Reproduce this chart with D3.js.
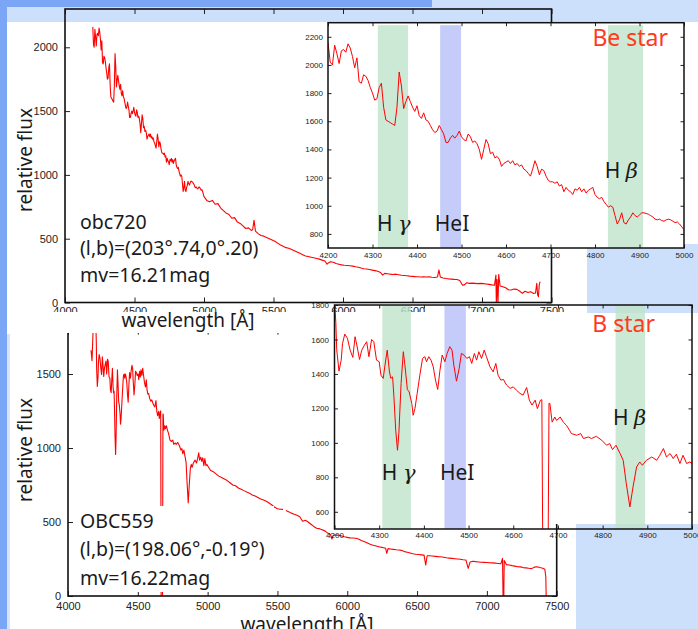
<!DOCTYPE html>
<html><head><meta charset="utf-8">
<script src="https://cdn.jsdelivr.net/npm/d3@7"></script>
<style>body{margin:0;background:#fff}svg{display:block}</style>
</head><body>
<script>
// ---------------- DATA ----------------
// Be star (obc720): blue part 4200-5000 Å (shared by main plot and inset)
const beBlue = [[4200,2160],[4205,2020],[4210,2000],[4215,2140],[4220,2080],[4225,2010],[4230,2100],[4235,2110],[4240,2090],[4245,2150],[4250,2120],[4255,2060],[4260,1980],[4265,2050],[4270,1880],[4275,1870],[4280,1930],[4285,1920],[4290,1890],[4295,1840],[4300,1800],[4305,1750],[4310,1760],[4315,1840],[4320,1870],[4325,1700],[4330,1610],[4335,1600],[4340,1590],[4345,1580],[4350,1570],[4355,1700],[4360,1950],[4365,1850],[4370,1690],[4375,1740],[4380,1780],[4385,1740],[4390,1700],[4395,1670],[4400,1710],[4405,1640],[4410,1620],[4415,1660],[4420,1610],[4425,1600],[4430,1570],[4435,1540],[4440,1520],[4445,1530],[4450,1570],[4455,1540],[4460,1510],[4465,1450],[4470,1450],[4475,1480],[4480,1500],[4485,1480],[4490,1500],[4495,1530],[4500,1490],[4505,1470],[4510,1460],[4515,1510],[4520,1490],[4525,1450],[4530,1460],[4535,1440],[4540,1400],[4545,1330],[4550,1400],[4555,1470],[4560,1440],[4565,1370],[4570,1380],[4575,1340],[4580,1350],[4585,1330],[4590,1280],[4595,1300],[4600,1310],[4605,1320],[4610,1300],[4615,1320],[4620,1290],[4625,1300],[4630,1280],[4635,1290],[4640,1260],[4645,1250],[4650,1230],[4655,1210],[4660,1260],[4665,1320],[4670,1280],[4675,1220],[4680,1260],[4685,1250],[4690,1210],[4695,1180],[4700,1170],[4705,1170],[4710,1160],[4715,1170],[4720,1140],[4725,1150],[4730,1100],[4735,1130],[4740,1110],[4745,1100],[4750,1080],[4755,1120],[4760,1110],[4765,1130],[4770,1100],[4775,1120],[4780,1090],[4785,1110],[4790,1120],[4795,1130],[4800,1080],[4805,1060],[4810,1050],[4815,1060],[4820,1030],[4825,1010],[4830,990],[4835,1000],[4840,990],[4845,930],[4850,870],[4855,900],[4860,950],[4865,880],[4870,870],[4875,900],[4880,920],[4885,950],[4890,930],[4895,920],[4900,935],[4905,950],[4910,950],[4915,945],[4920,940],[4925,930],[4930,920],[4935,905],[4940,900],[4945,905],[4950,895],[4955,890],[4960,900],[4965,905],[4970,900],[4975,890],[4980,880],[4985,885],[4990,870],[4995,850],[5000,830]];
// Be star red part 5000-7420 Å
const beRed = [[5020,800],[5040,790],[5060,800],[5080,770],[5100,775],[5120,740],[5140,720],[5160,700],[5180,690],[5200,660],[5220,665],[5240,630],[5260,620],[5280,600],[5300,580],[5320,585],[5340,565],[5350,570],[5360,645],[5370,560],[5390,540],[5410,525],[5430,520],[5450,510],[5470,500],[5490,490],[5510,480],[5530,465],[5550,450],[5570,440],[5590,430],[5610,425],[5630,415],[5650,405],[5670,395],[5690,385],[5710,375],[5730,365],[5750,360],[5770,355],[5790,350],[5810,345],[5830,340],[5850,332],[5870,325],[5885,300],[5895,310],[5910,320],[5930,315],[5950,305],[5970,300],[5990,295],[6010,292],[6030,290],[6050,288],[6070,285],[6090,280],[6110,276],[6130,270],[6150,265],[6170,262],[6190,258],[6210,254],[6230,250],[6250,245],[6270,235],[6285,215],[6300,228],[6320,225],[6340,222],[6360,220],[6380,222],[6400,218],[6420,214],[6440,212],[6460,210],[6480,207],[6500,205],[6520,203],[6540,202],[6560,200],[6580,202],[6600,200],[6620,202],[6640,198],[6660,196],[6680,200],[6690,255],[6700,200],[6720,192],[6740,188],[6760,185],[6780,183],[6800,181],[6820,180],[6840,172],[6860,135],[6875,140],[6890,155],[6910,150],[6930,152],[6950,150],[6970,148],[6990,150],[7010,148],[7030,145],[7050,142],[7070,138],[7090,136],[7100,215],[7103,-10],[7108,180],[7115,-10],[7120,220],[7130,130],[7150,124],[7170,115],[7190,100],[7210,98],[7230,105],[7250,103],[7270,90],[7290,72],[7310,88],[7330,78],[7350,85],[7370,70],[7385,75],[7394,150],[7400,60],[7406,46],[7412,140],[7418,163]];

// B star (OBC559): start of spectrum below 4200 Å
const bStart = [[4165,1660],[4172,1590],[4180,1800],[4188,1900],[4195,1850]];
// B star blue part 4200-5000 Å
const bBlue = [[4200,1820],[4203,1700],[4205,1540],[4210,1416],[4215,1480],[4218,1577],[4223,1631],[4229,1606],[4235,1538],[4241,1496],[4246,1616],[4250,1567],[4256,1484],[4261,1538],[4267,1567],[4272,1587],[4277,1500],[4283,1600],[4288,1587],[4294,1480],[4300,1471],[4304,1393],[4309,1374],[4313,1451],[4318,1538],[4323,1412],[4326,1374],[4330,1383],[4333,1267],[4337,1073],[4341,957],[4344,1054],[4349,1345],[4354,1529],[4358,1441],[4363,1310],[4367,1296],[4373,1228],[4376,1160],[4380,1199],[4385,1287],[4391,1393],[4397,1490],[4402,1500],[4406,1471],[4411,1500],[4416,1480],[4421,1441],[4426,1364],[4431,1310],[4436,1422],[4441,1509],[4447,1471],[4452,1519],[4458,1558],[4463,1538],[4467,1451],[4473,1358],[4479,1432],[4484,1519],[4490,1509],[4496,1490],[4502,1500],[4507,1461],[4513,1519],[4518,1480],[4523,1529],[4529,1490],[4535,1538],[4540,1500],[4548,1441],[4555,1412],[4561,1461],[4566,1393],[4572,1364],[4578,1368],[4585,1335],[4593,1316],[4600,1325],[4607,1306],[4615,1287],[4622,1277],[4630,1321],[4636,1248],[4642,1219],[4649,1248],[4654,1199],[4661,1248],[4664,1250],[4667,-50],[4677,-50],[4680,1230],[4682,1228],[4687,1120],[4693,1150],[4697,1130],[4705,1150],[4712,1120],[4719,1102],[4726,1073],[4730,1054],[4742,1044],[4751,1054],[4757,1025],[4768,1034],[4775,1025],[4786,1038],[4798,1015],[4809,986],[4816,996],[4822,961],[4830,986],[4839,938],[4846,899],[4853,763],[4861,628],[4868,744],[4876,860],[4883,889],[4889,870],[4898,899],[4910,918],[4921,899],[4928,928],[4936,967],[4943,918],[4951,938],[4958,909],[4965,934],[4973,880],[4980,928],[4988,880],[4995,889],[5000,880]];
// B star red part 5000-7425 Å (null = gap in the data)
const bRed = [[5020,850],[5040,840],[5060,825],[5080,810],[5100,800],[5120,790],[5140,780],[5160,765],[5180,750],[5200,745],[5220,730],[5240,722],[5260,712],[5280,703],[5300,695],[5320,683],[5340,675],[5360,665],[5380,655],[5400,648],[5420,640],[5440,628],[5460,615],[5480,600],[5500,590],[5520,586],[5540,585],[5545,null],[5560,578],[5580,570],[5600,560],[5620,552],[5640,545],[5660,535],[5680,505],[5700,512],[5720,500],[5740,485],[5760,470],[5780,458],[5800,455],[5820,448],[5840,440],[5860,425],[5880,415],[5890,385],[5900,410],[5920,412],[5940,410],[5960,405],[5980,400],[6000,396],[6020,393],[6040,392],[6060,390],[6080,385],[6100,375],[6120,368],[6140,360],[6160,352],[6180,345],[6200,340],[6220,335],[6240,330],[6260,326],[6275,322],[6283,288],[6292,320],[6310,318],[6330,315],[6350,312],[6370,311],[6390,308],[6410,300],[6430,295],[6450,290],[6470,285],[6490,282],[6510,280],[6530,278],[6550,276],[6562,209],[6572,272],[6590,272],[6610,270],[6630,268],[6650,266],[6670,265],[6690,262],[6710,258],[6730,256],[6750,254],[6770,252],[6790,250],[6810,248],[6830,245],[6850,243],[6866,187],[6880,230],[6900,235],[6920,232],[6940,230],[6960,228],[6980,227],[7000,226],[7020,225],[7040,224],[7060,222],[7080,220],[7100,218],[7112,254],[7116,-20],[7121,-20],[7124,240],[7140,212],[7160,209],[7180,205],[7200,202],[7220,198],[7240,197],[7260,192],[7280,190],[7300,187],[7320,185],[7340,195],[7360,198],[7380,192],[7400,187],[7415,180],[7422,130],[7425,-20]];

// line-identification bands (Å)
const beBands = [[4312,4380,"H"],[4452,4499,"He"],[4829,4908,"H"]];
const bBands  = [[4307,4371,"H"],[4446,4494,"He"],[4829,4895,"H"]];

// tick values
const mainXTicks = [4000,4500,5000,5500,6000,6500,7000,7500];
const topMainYTicks = [0,500,1000,1500,2000];
const botMainYTicks = [0,500,1000,1500];
const insetXTicks = [4200,4300,4400,4500,4600,4700,4800,4900,5000];
const topInsetYTicks = [800,1000,1200,1400,1600,1800,2000,2200];
const botInsetYTicks = [600,800,1000,1200,1400,1600,1800];

// texts
const topInfo = ["obc720","(l,b)=(203°.74,0°.20)","mv=16.21mag"];
const botInfo = ["OBC559","(l,b)=(198.06°,-0.19°)","mv=16.22mag"];

// ---------------- DRAW ----------------
const W = 698, H = 629;
const svg = d3.select("body").append("svg").attr("width", W).attr("height", H)
  .style("font-family", "'Liberation Sans', Arial, sans-serif");
const defs = svg.append("defs");
const DARK = "#7ba6f6", LIGHT = "#cde0fb";
const RED = "#ff0000";
const LABEL_FONT = "'Noto Sans', 'DejaVu Sans', sans-serif";

svg.append("rect").attr("width", W).attr("height", H).attr("fill", "#fff");
// decorative slide blocks
const deco = svg.append("g");
deco.append("rect").attr("x", 432).attr("y", 0).attr("width", 266).attr("height", 22).attr("fill", LIGHT);
deco.append("rect").attr("x", 7).attr("y", 7).attr("width", 691).attr("height", 15).attr("fill", LIGHT);
deco.append("rect").attr("x", 0).attr("y", 0).attr("width", 432).attr("height", 7).attr("fill", DARK);
deco.append("rect").attr("x", 0).attr("y", 0).attr("width", 7).attr("height", H).attr("fill", DARK);
deco.append("rect").attr("x", 7).attr("y", 334).attr("width", 3).attr("height", H - 334).attr("fill", "#d6e4fb");
deco.append("rect").attr("x", 587).attr("y", 244).attr("width", 111).attr("height", 69).attr("fill", LIGHT);
deco.append("rect").attr("x", 576).attr("y", 524).attr("width", 122).attr("height", 105).attr("fill", LIGHT);

defs.append("clipPath").attr("id", "labclip").append("rect")
  .attr("x", 0).attr("y", 0).attr("width", W).attr("height", 312);

let clipId = 0;
function panel(g, o) {
  const x = d3.scaleLinear().domain(o.xd).range(o.xr);
  const y = d3.scaleLinear().domain(o.yd).range(o.yr);
  const [x0, x1] = o.xr, [y1, y0] = o.yr;
  if (o.bg) {
    g.append("rect").attr("x", x0).attr("y", y0).attr("width", x1 - x0).attr("height", y1 - y0).attr("fill", "#fff");
  }
  if (o.bands) {
    g.selectAll(null).data(o.bands).join("rect")
      .attr("x", d => x(d[0])).attr("width", d => x(d[1]) - x(d[0]))
      .attr("y", y0 + o.bandInset).attr("height", y1 - y0 - o.bandInset)
      .attr("fill", d => d[2] === "H" ? "#bfe3cb" : "#b7bff8").attr("opacity", 0.8);
  }
  const id = "clip" + (clipId++);
  defs.append("clipPath").attr("id", id).append("rect")
    .attr("x", x0).attr("y", y0).attr("width", x1 - x0).attr("height", y1 - y0);
  const line = d3.line().defined(d => d[1] !== null).x(d => x(d[0])).y(d => y(d[1]));
  g.append("path").datum(o.data).attr("d", line).attr("fill", "none")
    .attr("stroke", RED).attr("stroke-width", o.lw).attr("stroke-linejoin", "round")
    .attr("clip-path", `url(#${id})`);
  const ts = o.tick;
  const ax = (parent, gen, tr, labels, pad) => {
    const a = parent.append("g").attr("transform", tr)
      .call(gen.tickSizeInner(-ts).tickSizeOuter(0).tickPadding(pad)
        .tickFormat(labels ? d3.format("d") : ""));
    a.select(".domain").remove();
    a.selectAll(".tick line").attr("stroke", "#222").attr("stroke-width", 1);
    a.selectAll("text").attr("font-size", o.fs).attr("fill", "#222")
      .attr("font-family", "'Liberation Sans', Arial, sans-serif");
    return a;
  };
  const xParent = g.append("g");
  if (o.xLabelClip) xParent.attr("clip-path", o.xLabelClip);
  ax(xParent, d3.axisBottom(x).tickValues(o.xt), `translate(0,${y1})`, true, o.xpad);
  ax(g, d3.axisTop(x).tickValues(o.xt), `translate(0,${y0})`, false, 0);
  ax(g, d3.axisLeft(y).tickValues(o.yt), `translate(${x0},0)`, true, o.ypad);
  ax(g, d3.axisRight(y).tickValues(o.yt), `translate(${x1},0)`, false, 0);
  g.append("rect").attr("x", x0).attr("y", y0).attr("width", x1 - x0).attr("height", y1 - y0)
    .attr("fill", "none").attr("stroke", "#111").attr("stroke-width", o.fw);
  return {x, y};
}

function info(g, lines, x, ys) {
  lines.forEach((t, i) => g.append("text").attr("x", x).attr("y", ys[i]).text(t)
    .attr("font-family", LABEL_FONT).attr("font-size", 19.5).attr("fill", "#1a1a1a"));
}
function axisTitles(g, xl, xlY, yl, ylY) {
  g.append("text").attr("x", xl).attr("y", xlY).attr("text-anchor", "middle")
    .attr("font-family", LABEL_FONT).attr("font-size", 19).attr("fill", "#1a1a1a").text("wavelength [Å]");
  g.append("text").attr("transform", `translate(${yl},${ylY}) rotate(-90)`).attr("text-anchor", "middle")
    .attr("dy", "0.35em").attr("font-family", LABEL_FONT).attr("font-size", 19).attr("fill", "#1a1a1a")
    .text("relative flux");
}

// ---- bottom main panel (B star) ----
const gBot = svg.append("g");
panel(gBot, {xd: [4000, 7500], xr: [68, 556.7], yd: [0, 1800], yr: [596, 329.6],
  data: bStart.concat(bBlue, bRed), xt: mainXTicks, yt: botMainYTicks,
  tick: 5, fs: 11, xpad: 6, ypad: 7, lw: 1.1, fw: 1.6});
gBot.append("rect").attr("x", 76).attr("y", 506).attr("width", 198).attr("height", 86).attr("fill", "#fff");
info(gBot, botInfo, 80, [528, 556, 585]);
axisTitles(gBot, 307, 631, 25, 450);

// white sheet of the upper figure, covering the top of the lower one
svg.append("rect").attr("x", 7).attr("y", 22).attr("width", 553).attr("height", 311).attr("fill", "#fff");

// ---- top main panel (Be star) ----
const gTop = svg.append("g");
panel(gTop, {xd: [4000, 7500], xr: [65, 551.5], yd: [0, 2300], yr: [302.5, 9],
  data: beBlue.concat(beRed), xt: mainXTicks, yt: topMainYTicks,
  tick: 5, fs: 11, xpad: 5, ypad: 7, lw: 1.1, fw: 1.6, xLabelClip: "url(#labclip)"});
info(gTop, topInfo, 80, [229, 255, 282]);
axisTitles(gTop, 188, 327, 25, 160);

// ---- top inset ----
const gTI = svg.append("g");
const ti = panel(gTI, {xd: [4200, 5000], xr: [328, 684], yd: [700, 2300], yr: [248, 22.7], bg: true,
  data: beBlue, bands: beBands, bandInset: 2.5, xt: insetXTicks, yt: topInsetYTicks,
  tick: 3.5, fs: 8, xpad: 4, ypad: 5, lw: 1, fw: 1.5});

// ---- bottom inset ----
const gBI = svg.append("g");
gBI.append("rect").attr("x", 334.5).attr("y", 313).attr("width", 357.5).attr("height", 211).attr("fill", "#fff");
const bi = panel(gBI, {xd: [4200, 5000], xr: [334.5, 692], yd: [500, 1800], yr: [529, 305],
  data: bBlue, bands: bBands, bandInset: 0.5, xt: insetXTicks, yt: botInsetYTicks,
  tick: 3.5, fs: 8, xpad: 3.5, ypad: 5.5, lw: 1, fw: 1.5});

// line labels
function lineLabels(g, xs, specs, starText, starX, starY) {
  specs.forEach(s => {
    const t = g.append("text").attr("x", xs(s.w)).attr("y", s.y)
      .attr("font-family", LABEL_FONT).attr("font-size", 21).attr("fill", "#1a1a1a");
    if (s.greek) {
      t.append("tspan").text("H ");
      t.append("tspan").text(s.greek).attr("font-style", "italic").attr("font-family", "'DejaVu Serif', serif");
    } else t.text(s.text);
  });
  g.append("text").attr("x", starX).attr("y", starY).attr("text-anchor", "end")
    .attr("font-family", LABEL_FONT).attr("font-size", 23).attr("fill", "#ff3a1f").text(starText);
}
lineLabels(gTI, ti.x, [{w: 4310, y: 231, greek: "γ"}, {w: 4440, y: 231, text: "HeI"}, {w: 4822, y: 178, greek: "β"}],
  "Be star", 668, 46);
lineLabels(gBI, bi.x, [{w: 4306, y: 480, greek: "γ"}, {w: 4436, y: 480, text: "HeI"}, {w: 4823, y: 425, greek: "β"}],
  "B star", 655, 332);
</script>
</body></html>
